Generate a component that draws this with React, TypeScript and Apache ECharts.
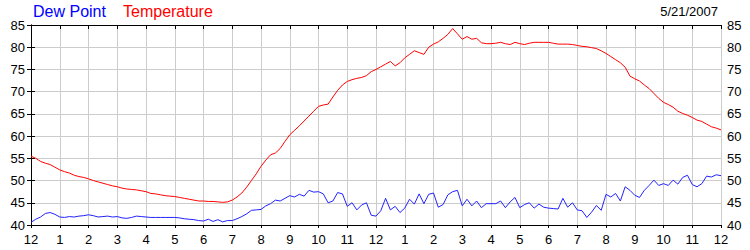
import React, { useEffect, useRef } from "react";
import * as echarts from "echarts";

const hourLabels = ["12", "1", "2", "3", "4", "5", "6", "7", "8", "9", "10", "11", "12", "1", "2", "3", "4", "5", "6", "7", "8", "9", "10", "11", "12"];
const stepMinutes = 10;
const dateLabel = "5/21/2007";

const temperature = [
  55.5, 55.0, 54.3, 53.9, 53.6, 53.0,
  52.4, 52.0, 51.7, 51.2, 50.9, 50.7,
  50.4, 50.0, 49.7, 49.4, 49.1, 48.8,
  48.6, 48.3, 48.1, 48.0, 47.9, 47.7,
  47.5, 47.1, 47.0, 46.8, 46.6, 46.5,
  46.4, 46.2, 46.0, 45.8, 45.6, 45.4,
  45.4, 45.3, 45.3, 45.2, 45.1, 45.2,
  45.6, 46.3, 47.2, 48.5, 50.0, 51.5,
  53.2, 54.6, 55.8, 56.2, 57.2, 58.8,
  60.3, 61.3, 62.3, 63.4, 64.5, 65.6,
  66.7, 67.0, 67.2, 68.8, 70.3, 71.5,
  72.3, 72.7, 73.0, 73.2, 73.6, 74.5,
  75.0, 75.6, 76.2, 76.8, 75.8, 76.5,
  77.6, 78.4, 79.2, 78.8, 78.4, 80.0,
  80.7, 81.2, 82.0, 82.9, 84.2, 83.0,
  81.8, 82.4, 81.8, 82.0, 81.0, 80.8,
  80.8, 80.9, 81.1, 80.8, 80.6, 81.1,
  80.8, 80.6, 80.9, 81.1, 81.1, 81.1,
  81.1, 80.9, 80.7, 80.7, 80.7, 80.6,
  80.4, 80.2, 80.1, 79.9, 79.7, 79.2,
  78.6, 77.9, 77.2, 76.5, 75.5, 73.5,
  72.9, 72.4, 71.5, 70.7, 69.6, 68.5,
  67.6, 67.1, 66.5, 65.6, 65.1, 64.7,
  64.2, 63.6, 63.3, 62.7, 62.1, 61.8,
  61.4,
];

const dewPoint = [
  40.6, 41.3, 41.8, 42.6, 42.8, 42.4,
  41.8, 41.7, 41.9, 41.8, 42.0, 42.1,
  42.3, 42.1, 41.8, 41.9, 42.0, 41.8,
  41.9, 41.6, 41.5, 41.7, 42.0, 41.9,
  41.8, 41.7, 41.7, 41.7, 41.7, 41.7,
  41.7, 41.6, 41.4, 41.3, 41.2, 41.0,
  40.9, 41.3, 40.8, 41.2, 40.7, 41.0,
  41.0, 41.4, 41.9, 42.5, 43.3, 43.4,
  43.5, 44.3, 44.8, 45.6, 45.4, 46.0,
  46.6, 46.3, 46.9, 46.5, 47.8, 47.4,
  47.5, 47.0, 45.0, 45.4, 47.3, 47.0,
  44.2, 45.0, 43.4, 44.5, 45.0, 42.2,
  42.0, 43.2, 46.0, 43.4, 44.2, 42.8,
  43.8, 45.8, 44.7, 47.0, 44.8, 46.9,
  47.2, 44.0, 44.6, 46.8, 47.5, 47.8,
  44.3, 45.8, 44.3, 45.4, 43.9, 44.8,
  44.8, 44.8, 45.4, 43.9, 45.2, 46.2,
  43.9, 44.6, 45.0, 43.8, 44.7, 44.0,
  43.8, 43.7, 43.6, 46.0, 44.0, 45.0,
  43.4, 43.2, 41.7, 42.9, 44.4, 43.3,
  46.9, 46.3, 47.1, 45.4, 48.6, 47.8,
  46.7, 46.2, 47.8, 48.9, 50.1, 48.9,
  49.3, 48.9, 50.1, 49.2, 50.7, 51.2,
  49.1, 48.6, 49.3, 51.0, 50.8, 51.3,
  51.1,
];

const FONT = "Arial, 'Liberation Sans', sans-serif";

export default function App() {
  const ref = useRef<HTMLDivElement>(null);
  useEffect(() => {
    document.body.style.margin = "0";
    if (!ref.current) return;
    const chart = echarts.init(ref.current, null, { renderer: "svg" });
    const toPairs = (arr: number[]) => arr.map((v, i) => [(i * stepMinutes) / 60, v]);
    const yCommon = {
      type: "value" as const,
      min: 40,
      max: 85,
      interval: 5,
      axisLine: { show: true, lineStyle: { color: "#000", width: 1 } },
      axisTick: { show: true, length: 4, lineStyle: { color: "#000" } },
      axisLabel: { color: "#000", fontSize: 13, fontFamily: FONT, margin: 6 },
      splitLine: { show: true, lineStyle: { color: "#cccccc", width: 1 } },
    };
    chart.setOption({
      animation: false,
      backgroundColor: "#fff",
      grid: { left: 31, right: 29, top: 25, bottom: 25, containLabel: false },
      graphic: [
        { type: "text", left: 33, top: 3, style: { text: "Dew Point", fill: "#0000ff", font: `16px ${FONT}` } },
        { type: "text", left: 123, top: 3, style: { text: "Temperature", fill: "#ff0000", font: `16px ${FONT}` } },
        { type: "text", right: 32, top: 5, style: { text: dateLabel, fill: "#000", font: `13px ${FONT}` } },
      ],
      xAxis: [
        {
          type: "value",
          min: 0,
          max: 24,
          interval: 1,
          position: "bottom",
          axisLine: { show: true, lineStyle: { color: "#000", width: 1 } },
          axisTick: { show: true, length: 3, lineStyle: { color: "#000" } },
          axisLabel: {
            color: "#000",
            fontSize: 13,
            fontFamily: FONT,
            margin: 8,
            formatter: (v: number) => hourLabels[Math.round(v)] ?? "",
          },
          splitLine: { show: true, lineStyle: { color: "#cccccc", width: 1 } },
        },
        {
          type: "value",
          min: 0,
          max: 24,
          interval: 1,
          position: "top",
          axisLine: { show: true, lineStyle: { color: "#000", width: 1 } },
          axisTick: { show: true, inside: true, length: 4, lineStyle: { color: "#000" } },
          axisLabel: { show: false },
          splitLine: { show: false },
        },
      ],
      yAxis: [
        { ...yCommon, position: "left" },
        { ...yCommon, position: "right", splitLine: { show: false } },
      ],
      series: [
        {
          name: "Dew Point",
          type: "line",
          data: toPairs(dewPoint),
          showSymbol: false,
          symbol: "none",
          lineStyle: { color: "#2222ff", width: 1 },
          xAxisIndex: 0,
          yAxisIndex: 0,
        },
        {
          name: "Temperature",
          type: "line",
          data: toPairs(temperature),
          showSymbol: false,
          symbol: "none",
          lineStyle: { color: "#ff0000", width: 1 },
          xAxisIndex: 0,
          yAxisIndex: 0,
        },
      ],
    });
    return () => chart.dispose();
  }, []);
  return <div ref={ref} style={{ width: 750, height: 250 }} />;
}
